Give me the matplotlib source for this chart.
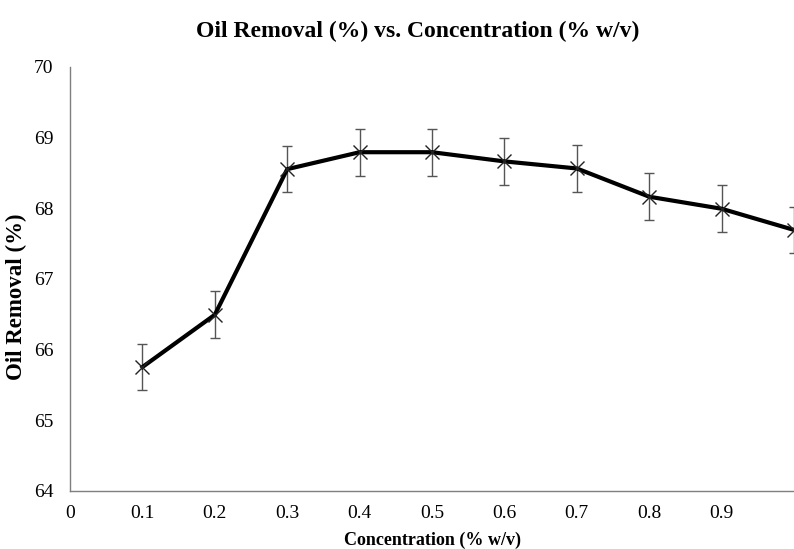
import matplotlib
matplotlib.use('Agg')
import matplotlib.pyplot as plt

# data
concentration = [0.1, 0.2, 0.3, 0.4, 0.5, 0.6, 0.7, 0.8, 0.9, 1.0]
oil_removal = [65.75, 66.49, 68.55, 68.79, 68.79, 68.66, 68.56, 68.16, 67.99, 67.69]
error = [0.33, 0.33, 0.33, 0.33, 0.33, 0.33, 0.33, 0.33, 0.33, 0.33]

x_ticks = [0, 0.1, 0.2, 0.3, 0.4, 0.5, 0.6, 0.7, 0.8, 0.9]
x_tick_labels = ['0', '0.1', '0.2', '0.3', '0.4', '0.5', '0.6', '0.7', '0.8', '0.9']
y_ticks = [64, 65, 66, 67, 68, 69, 70]

plt.rcParams['font.family'] = ['Liberation Serif', 'DejaVu Serif']

fig = plt.figure(figsize=(7.94, 5.49), dpi=100)
ax = fig.add_axes([0.0882, 0.1062, 0.9118, 0.7723])

ax.errorbar(concentration, oil_removal, yerr=error, fmt='none',
            ecolor='#555555', elinewidth=1.0, capsize=3.3, capthick=1.0, zorder=2)
ax.plot(concentration, oil_removal, color='black', linewidth=3.0, zorder=3)
ax.plot(concentration, oil_removal, linestyle='none', marker='x', markersize=9.5,
        markeredgewidth=1.0, color='#222222', zorder=4)

ax.set_xlim(0, 1.0)
ax.set_ylim(64, 70)
ax.set_xticks(x_ticks)
ax.set_xticklabels(x_tick_labels)
ax.set_yticks(y_ticks)
ax.tick_params(axis='both', length=0, labelsize=14)
ax.tick_params(axis='x', pad=10)
ax.tick_params(axis='y', pad=12)

for side in ['top', 'right']:
    ax.spines[side].set_visible(False)
for side in ['left', 'bottom']:
    ax.spines[side].set_color('#7f7f7f')
    ax.spines[side].set_linewidth(1.0)

ax.set_xlabel('Concentration (% w/v)', fontsize=13, fontweight='bold', labelpad=7)
ax.set_ylabel('Oil Removal (%)', fontsize=16.5, fontweight='bold')
ax.yaxis.set_label_coords(-0.059, 0.458)
fig.suptitle('Oil Removal (%) vs. Concentration (% w/v)', fontsize=17,
             fontweight='bold', x=0.526, y=0.962)

fig.savefig('out.png', dpi=100)
